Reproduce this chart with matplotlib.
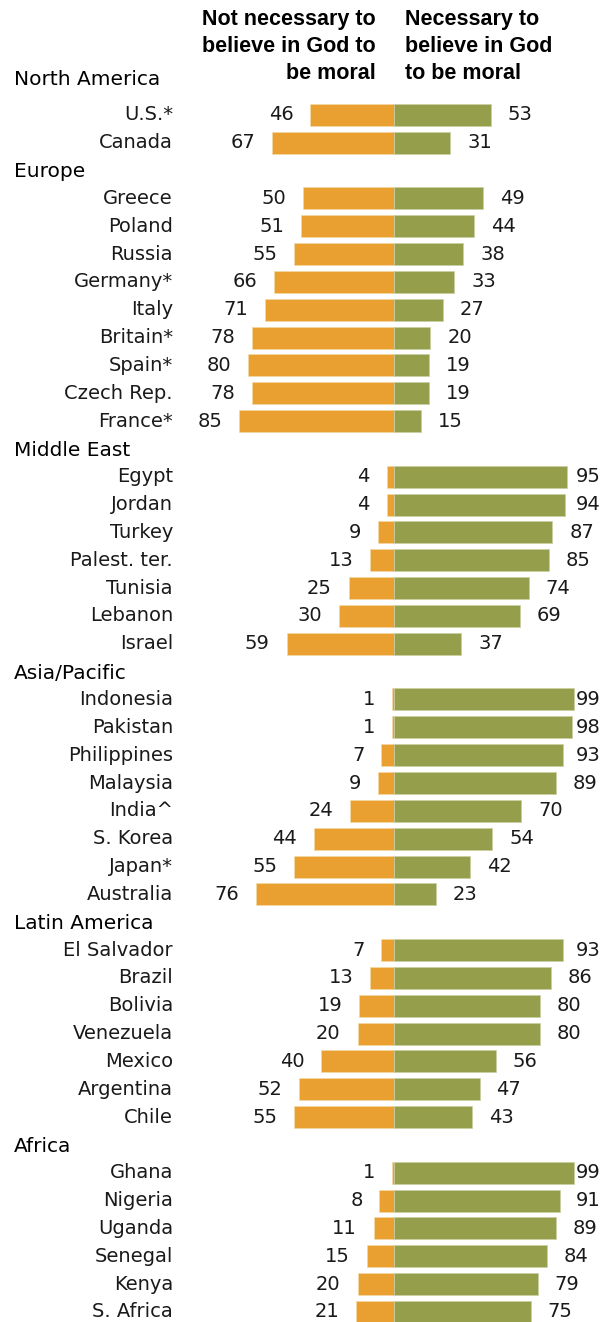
import matplotlib
matplotlib.use("Agg")
import matplotlib.pyplot as plt

# --------------------------------------------------------------------------
# Données (% des répondants)
# --------------------------------------------------------------------------
regions = ["North America", "Europe", "Middle East", "Asia/Pacific",
           "Latin America", "Africa"]

na_pays = ["U.S.*", "Canada"]
na_non = [46, 67]
na_oui = [53, 31]

eu_pays = ["Greece", "Poland", "Russia", "Germany*", "Italy", "Britain*",
           "Spain*", "Czech Rep.", "France*"]
eu_non = [50, 51, 55, 66, 71, 78, 80, 78, 85]
eu_oui = [49, 44, 38, 33, 27, 20, 19, 19, 15]

me_pays = ["Egypt", "Jordan", "Turkey", "Palest. ter.", "Tunisia", "Lebanon", "Israel"]
me_non = [4, 4, 9, 13, 25, 30, 59]
me_oui = [95, 94, 87, 85, 74, 69, 37]

ap_pays = ["Indonesia", "Pakistan", "Philippines", "Malaysia", "India^",
           "S. Korea", "Japan*", "Australia"]
ap_non = [1, 1, 7, 9, 24, 44, 55, 76]
ap_oui = [99, 98, 93, 89, 70, 54, 42, 23]

la_pays = ["El Salvador", "Brazil", "Bolivia", "Venezuela", "Mexico",
           "Argentina", "Chile"]
la_non = [7, 13, 19, 20, 40, 52, 55]
la_oui = [93, 86, 80, 80, 56, 47, 43]

af_pays = ["Ghana", "Nigeria", "Uganda", "Senegal", "Kenya", "S. Africa"]
af_non = [1, 8, 11, 15, 20, 21]
af_oui = [99, 91, 89, 84, 79, 75]

groupes = [
    (na_pays, na_non, na_oui),
    (eu_pays, eu_non, eu_oui),
    (me_pays, me_non, me_oui),
    (ap_pays, ap_non, ap_oui),
    (la_pays, la_non, la_oui),
    (af_pays, af_non, af_oui),
]

titre_gauche = "Not necessary to\nbelieve in God to\nbe moral"
titre_droite = "Necessary to\nbelieve in God\nto be moral"

ORANGE = "#E9A030"
VERT = "#959E4B"
TEXTE = "#1a1a1a"

# --------------------------------------------------------------------------
# Figure
# --------------------------------------------------------------------------
fig = plt.figure(figsize=(6.11, 13.22), dpi=100)
ax = fig.add_axes([0, 0, 1, 1])
ax.set_xlim(-216.5, 119.2)
ax.set_ylim(44.36, -3.125)
ax.axis("off")

x_pays = -121.5
x_region = -209
ecart = 9.3
x_max_droite = 100

y = 0
for region, (pays, non, oui) in zip(regions, groupes):
    dy = -0.33 if y == 0 else 0
    ax.text(x_region, y + dy + 0.05, region, ha="left", va="center", fontsize=14.5,
            color="black")
    y += 1
    for p, n, o in zip(pays, non, oui):
        ax.barh(y, -n, height=0.79, color=ORANGE, edgecolor="#f3d9a8", linewidth=0.5)
        ax.barh(y, o, height=0.79, color=VERT, edgecolor="#c9cfa3", linewidth=0.5)
        ax.text(x_pays, y, p, ha="right", va="center", fontsize=14, color=TEXTE)
        ax.text(-n - ecart, y, str(n), ha="right", va="center", fontsize=14,
                color=TEXTE)
        ax.text(min(o + ecart, x_max_droite), y, str(o), ha="left", va="center",
                fontsize=14, color=TEXTE)
        y += 1

ax.text(-9.9, -1.46, titre_gauche, ha="right", va="center", fontsize=15.5,
        fontweight="bold", family="Liberation Sans", linespacing=1.38)
ax.text(6, -1.46, titre_droite, ha="left", va="center", fontsize=15.5,
        fontweight="bold", family="Liberation Sans", linespacing=1.38)

fig.savefig("out.png", dpi=100)
plt.close(fig)
